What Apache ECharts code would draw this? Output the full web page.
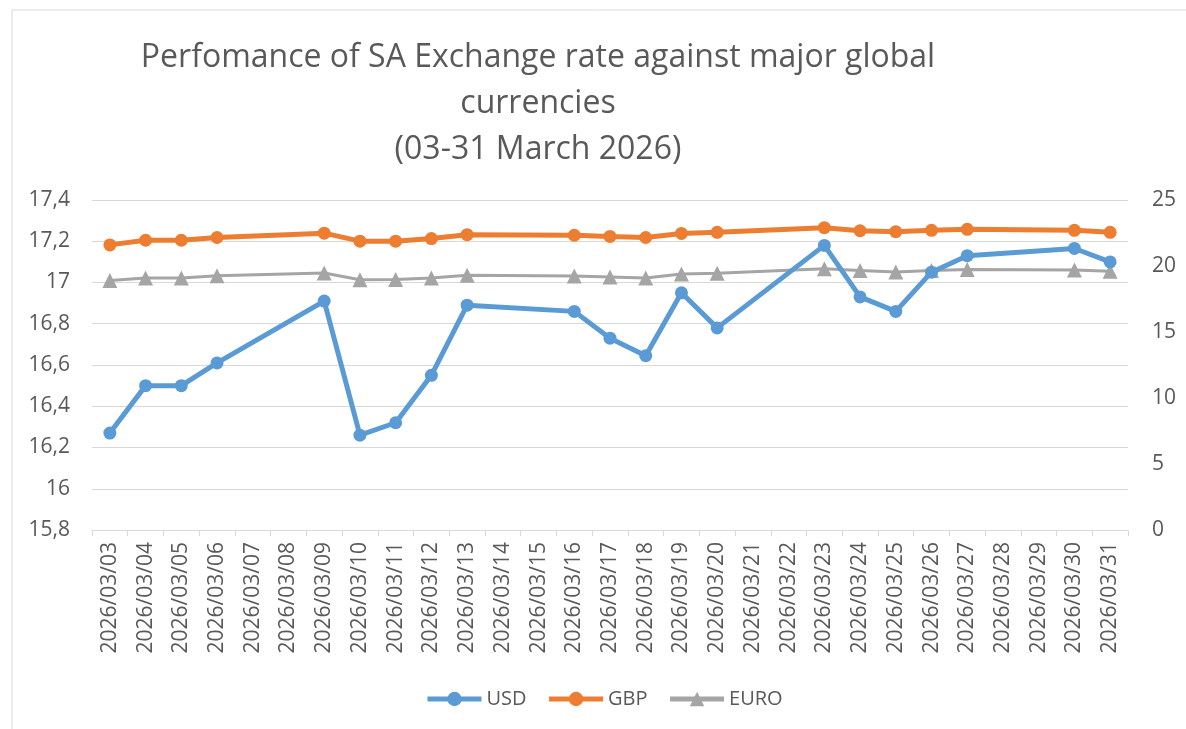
<!DOCTYPE html>
<html>
<head>
<meta charset="utf-8">
<script src="https://cdn.jsdelivr.net/npm/echarts@6/dist/echarts.min.js"></script>
<style>
  html, body { margin: 0; padding: 0; background: #fff; }
  #chart { width: 1186px; height: 729px; }
</style>
</head>
<body>
<div id="chart"></div>
<script>
// dates on the x axis (weekends have no quote)
var dates = [
  '2026/03/03', '2026/03/04', '2026/03/05', '2026/03/06', '2026/03/07', '2026/03/08',
  '2026/03/09', '2026/03/10', '2026/03/11', '2026/03/12', '2026/03/13', '2026/03/14',
  '2026/03/15', '2026/03/16', '2026/03/17', '2026/03/18', '2026/03/19', '2026/03/20',
  '2026/03/21', '2026/03/22', '2026/03/23', '2026/03/24', '2026/03/25', '2026/03/26',
  '2026/03/27', '2026/03/28', '2026/03/29', '2026/03/30', '2026/03/31'
]
// left axis
var usd = [16.27, 16.50, 16.50, 16.61, null, null, 16.91, 16.26, 16.32, 16.55, 16.89, null, null,
  16.86, 16.73, 16.645, 16.95, 16.78, null, null, 17.18, 16.93, 16.86, 17.05, 17.13, null, null, 17.165, 17.10]
// right axis
var gbp = [21.6, 21.95, 21.95, 22.16, null, null, 22.49, 21.88, 21.88, 22.08, 22.37, null, null,
  22.33, 22.24, 22.16, 22.47, 22.55, null, null, 22.9, 22.67, 22.6, 22.7, 22.78, null, null, 22.7, 22.55]
var euro = [18.9, 19.09, 19.09, 19.27, null, null, 19.47, 18.96, 18.98, 19.09, 19.3, null, null,
  19.25, 19.17, 19.09, 19.4, 19.45, null, null, 19.8, 19.65, 19.55, 19.65, 19.73, null, null, 19.7, 19.6]

var font = '"Open Sans", "Noto Sans", sans-serif'
var textColor = '#595959'
var lineColor = '#d9d9d9'

var myChart = echarts.init(document.getElementById('chart'))
myChart.setOption({
  animation: false,
  textStyle: { fontFamily: font },
  graphic: [
    {
      type: 'rect',
      shape: { x: 12, y: 10, width: 1200, height: 740 },
      style: { fill: 'none', stroke: lineColor, lineWidth: 1 },
      silent: true
    }
  ],
  title: {
    text: 'Perfomance of SA Exchange rate against major global\ncurrencies\n(03-31 March 2026)',
    left: 533,
    top: 30,
    textAlign: 'center',
    textStyle: {
      fontFamily: font,
      fontWeight: 'normal',
      fontSize: 32,
      lineHeight: 46,
      color: textColor,
      align: 'center'
    }
  },
  legend: {
    bottom: 15,
    left: 420,
    itemWidth: 54,
    itemHeight: 18,
    itemGap: 20,
    lineStyle: { width: 5 },
    textStyle: { fontSize: 20, color: textColor, fontFamily: font },
    data: ['USD', 'GBP', 'EURO']
  },
  grid: {
    left: 92,
    right: 58,
    top: 200,
    bottom: 199
  },
  xAxis: {
    type: 'category',
    data: dates,
    boundaryGap: true,
    axisLine: { lineStyle: { color: lineColor, width: 1 } },
    axisTick: { show: true, length: 6, lineStyle: { color: lineColor } },
    axisLabel: {
      interval: 0,
      rotate: 90,
      margin: 12,
      fontSize: 21,
      color: textColor,
      fontFamily: font
    }
  },
  yAxis: [
    {
      type: 'value',
      min: 15.8,
      max: 17.4,
      interval: 0.2,
      axisLine: { show: false },
      axisTick: { show: false },
      splitLine: { lineStyle: { color: lineColor, width: 1 } },
      axisLabel: {
        margin: 22,
        fontSize: 21,
        color: textColor,
        fontFamily: font,
        formatter: function (v) {
          return String(+v.toFixed(1)).replace('.', ',')
        }
      }
    },
    {
      type: 'value',
      min: 0,
      max: 25,
      interval: 5,
      axisLine: { show: false },
      axisTick: { show: false },
      splitLine: { show: false },
      axisLabel: {
        margin: 24,
        fontSize: 21,
        color: textColor,
        fontFamily: font
      }
    }
  ],
  series: [
    {
      name: 'USD',
      type: 'line',
      yAxisIndex: 0,
      data: usd,
      connectNulls: true,
      symbol: 'circle',
      symbolSize: 13,
      itemStyle: { color: '#5b9bd5' },
      lineStyle: { color: '#5b9bd5', width: 5 },
      z: 3
    },
    {
      name: 'GBP',
      type: 'line',
      yAxisIndex: 1,
      data: gbp,
      connectNulls: true,
      symbol: 'circle',
      symbolSize: 13,
      itemStyle: { color: '#ed7d31' },
      lineStyle: { color: '#ed7d31', width: 5 },
      z: 2
    },
    {
      name: 'EURO',
      type: 'line',
      yAxisIndex: 1,
      data: euro,
      connectNulls: true,
      symbol: 'triangle',
      symbolSize: 15,
      itemStyle: { color: '#a5a5a5' },
      lineStyle: { color: '#a5a5a5', width: 3 },
      z: 2
    }
  ]
})
</script>
</body>
</html>
